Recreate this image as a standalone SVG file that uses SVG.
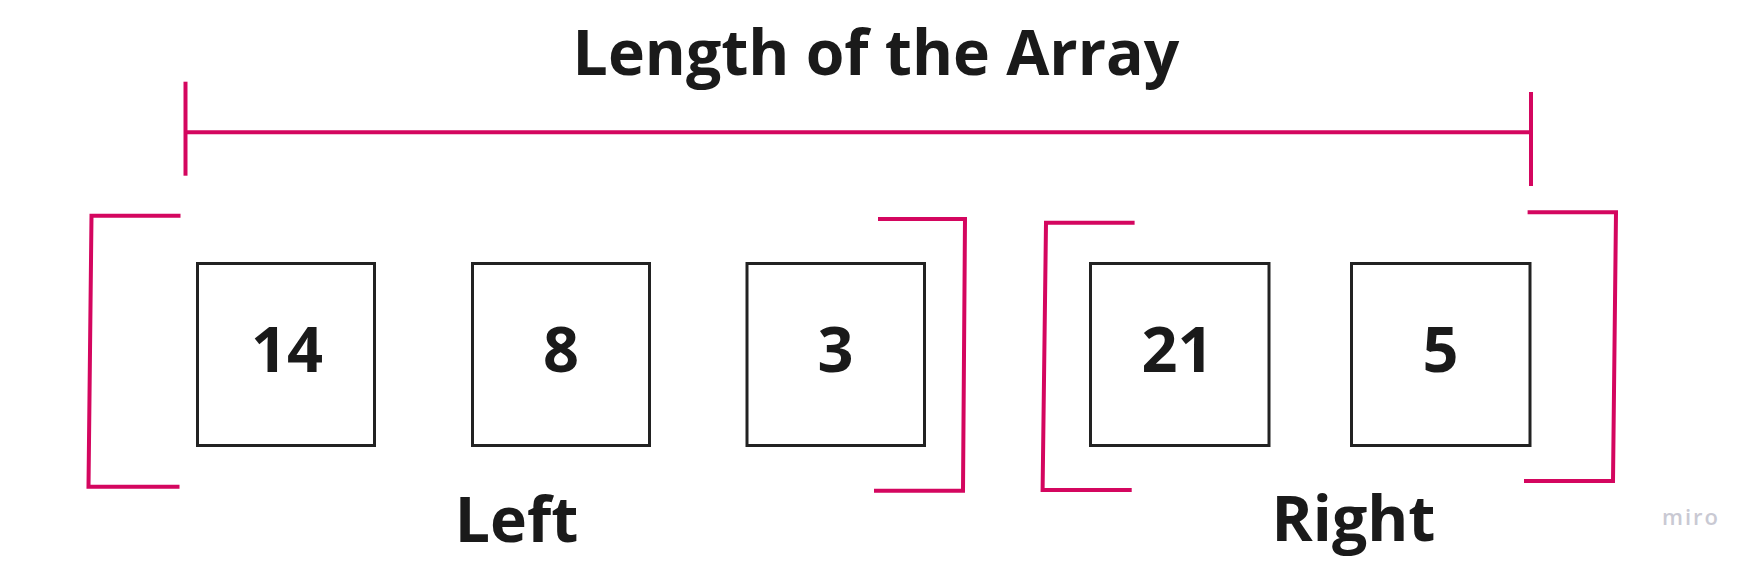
<svg xmlns="http://www.w3.org/2000/svg" width="1759" height="568" viewBox="0 0 1759 568">
  <style>
    .pink { fill: none; stroke: #d4065f; stroke-width: 4; stroke-linejoin: miter; stroke-linecap: butt; }
    .box { fill: #ffffff; stroke: #222222; stroke-width: 3; }
    .num { font-family: "Open Sans", "Liberation Sans", sans-serif; font-weight: 700; font-size: 63px; fill: #1a1a1a; text-anchor: middle; }
    .label { font-family: "Open Sans", "Liberation Sans", sans-serif; font-weight: 700; font-size: 62.5px; fill: #1a1a1a; text-anchor: middle; }
    .wm { font-family: "Open Sans", "Liberation Sans", sans-serif; font-weight: 600; font-size: 22px; fill: #c9c9d3; letter-spacing: 2px; }
  </style>
  <rect x="0" y="0" width="1759" height="568" fill="#ffffff"/>

  <g id="connectors">
    <line class="pink" x1="185.5" y1="81.7" x2="185.5" y2="175.7"/>
    <line class="pink" x1="185.5" y1="132.3" x2="1531" y2="132.3"/>
    <line class="pink" x1="1531" y1="92" x2="1531" y2="186"/>
    <polyline class="pink" points="180.5,215.7 91.5,215.7 88.5,486.7 179.5,486.7"/>
    <polyline class="pink" points="878,219 965,219 963,490.7 874,490.7"/>
    <polyline class="pink" points="1134.6,222.7 1046,222.7 1042.6,490 1131.7,490"/>
    <polyline class="pink" points="1527.6,212.3 1616,212.3 1613,481 1524,481"/>
  </g>

  <g id="title">
    <text class="label" x="876" y="75" font-size="65">Length of the Array</text>
  </g>

  <g id="node-14">
    <rect class="box" x="197.5" y="263.5" width="177" height="182"/>
    <text class="num" x="287" y="371.7">14</text>
  </g>
  <g id="node-8">
    <rect class="box" x="472.5" y="263.5" width="177" height="182"/>
    <text class="num" x="561" y="371.7">8</text>
  </g>
  <g id="node-3">
    <rect class="box" x="747" y="263.5" width="177.5" height="182"/>
    <text class="num" x="835.5" y="371.7">3</text>
  </g>
  <g id="node-21">
    <rect class="box" x="1090.5" y="263.5" width="178.5" height="182"/>
    <text class="num" x="1177.4" y="371.7">21</text>
  </g>
  <g id="node-5">
    <rect class="box" x="1351.5" y="263.5" width="178.5" height="182"/>
    <text class="num" x="1440.5" y="371.7">5</text>
  </g>

  <g id="label-left">
    <text class="label" x="516.5" y="541.7">Left</text>
  </g>
  <g id="label-right">
    <text class="label" x="1353.5" y="541">Right</text>
  </g>
  <g id="watermark">
    <text class="wm" x="1662" y="525">miro</text>
  </g>
</svg>
